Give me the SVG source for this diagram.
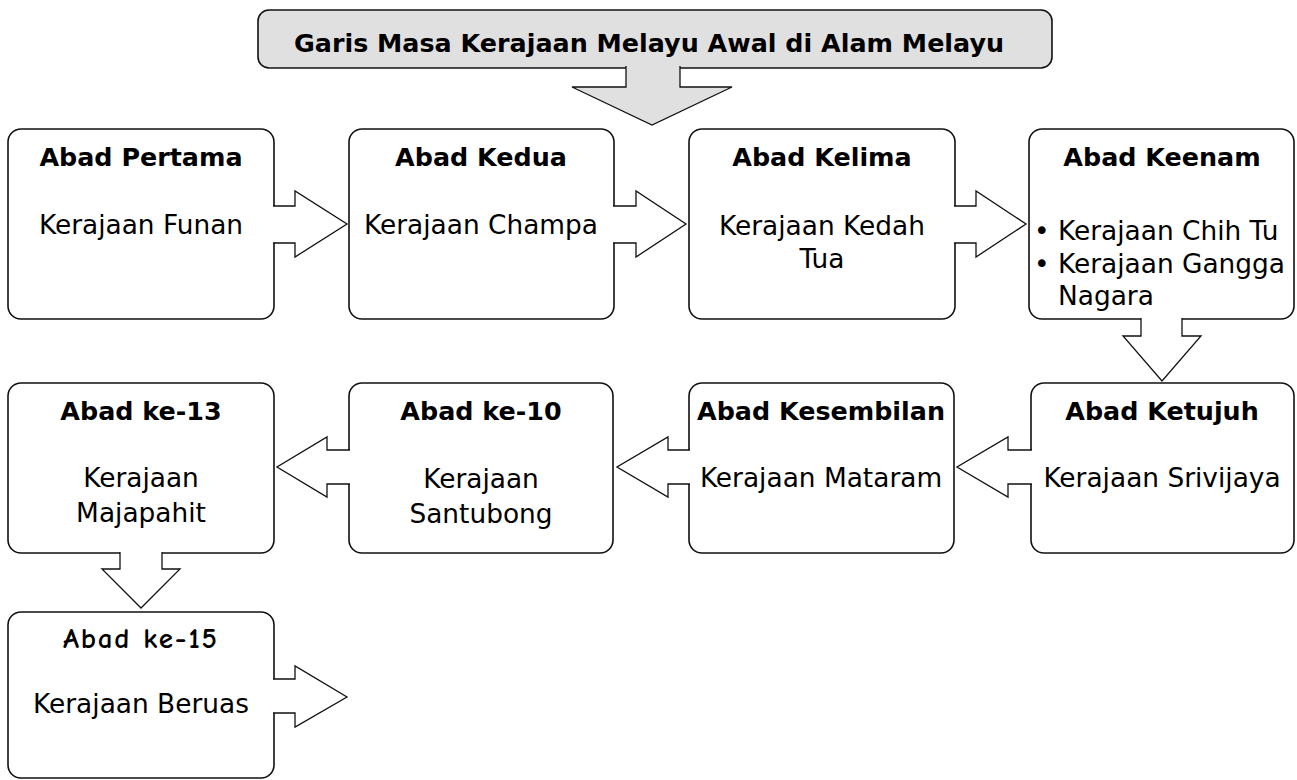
<svg xmlns="http://www.w3.org/2000/svg" width="1297" height="780" viewBox="0 0 1297 780">
<style>
.box{fill:#fff;stroke:#111;stroke-width:1.6}
.arr{fill:#fff;stroke:#111;stroke-width:1.3;stroke-linejoin:miter}
.h{font-family:"DejaVu Sans",sans-serif;font-weight:bold;font-size:25.4px;text-anchor:middle;fill:#000}
.b{font-family:"DejaVu Sans",sans-serif;font-size:26.4px;text-anchor:middle;fill:#000}
.bl{font-family:"DejaVu Sans",sans-serif;font-size:26.4px;fill:#000}
.h2{font-family:"Comic Neue","DejaVu Sans",sans-serif;font-weight:bold;font-size:29px;text-anchor:middle;fill:#000}
</style>
<rect width="1297" height="780" fill="#fff"/>

<g id="title">
<rect x="258" y="10" width="794" height="58" rx="11" fill="#e0e0e0" stroke="#111" stroke-width="1.6"/>
<text class="h" x="649" y="52">Garis Masa Kerajaan Melayu Awal di Alam Melayu</text>
</g>

<g id="n1"><rect class="box" x="8" y="129" width="266" height="190" rx="13"/>
<text class="h" x="141" y="166">Abad Pertama</text>
<text class="b" x="141" y="234">Kerajaan Funan</text></g>

<g id="n2"><rect class="box" x="349" y="129" width="265" height="190" rx="13"/>
<text class="h" x="481" y="166">Abad Kedua</text>
<text class="b" x="481" y="234">Kerajaan Champa</text></g>

<g id="n3"><rect class="box" x="689" y="129" width="266" height="190" rx="13"/>
<text class="h" x="822" y="166">Abad Kelima</text>
<text class="b" x="822" y="235">Kerajaan Kedah</text>
<text class="b" x="822" y="268">Tua</text></g>

<g id="n4"><rect class="box" x="1029" y="129" width="265" height="190" rx="13"/>
<text class="h" x="1162" y="166">Abad Keenam</text>
<text class="bl" x="1034" y="240">• Kerajaan Chih Tu</text>
<text class="bl" x="1034" y="273">• Kerajaan Gangga</text>
<text class="bl" x="1058" y="305">Nagara</text></g>

<g id="n5"><rect class="box" x="1031" y="383" width="263" height="170" rx="13"/>
<text class="h" x="1162" y="420">Abad Ketujuh</text>
<text class="b" x="1162" y="487">Kerajaan Srivijaya</text></g>

<g id="n6"><rect class="box" x="689" y="383" width="265" height="170" rx="13"/>
<text class="h" x="821" y="420">Abad Kesembilan</text>
<text class="b" x="821" y="487">Kerajaan Mataram</text></g>

<g id="n7"><rect class="box" x="349" y="383" width="264" height="170" rx="13"/>
<text class="h" x="481" y="420">Abad ke-10</text>
<text class="b" x="481" y="488">Kerajaan</text>
<text class="b" x="481" y="523">Santubong</text></g>

<g id="n8"><rect class="box" x="8" y="383" width="266" height="170" rx="13"/>
<text class="h" x="141" y="420">Abad ke-13</text>
<text class="b" x="141" y="487">Kerajaan</text>
<text class="b" x="141" y="522">Majapahit</text></g>

<g id="n9"><rect class="box" x="8" y="612" width="266" height="166" rx="13"/>
<text class="h2" x="140" y="648" textLength="154" lengthAdjust="spacing">Abad ke-15</text>
<text class="b" x="141" y="713">Kerajaan Beruas</text></g>

<g id="connectors">
<path d="M626,66 V87 H572 L652,125 L732,87 H680 V66" fill="#e0e0e0" stroke="#111" stroke-width="1.3"/>
<path class="arr" d="M273,206 H295 V191 L347,224 L295,257 V243 H273"/>
<path class="arr" d="M613,206 H636 V191 L686,224 L636,257 V243 H613"/>
<path class="arr" d="M954,206 H976 V191 L1026,224 L976,257 V243 H954"/>
<path class="arr" d="M1141,318 V336 H1123 L1162,381 L1201,336 H1182 V318"/>
<path class="arr" d="M1032,450 H1008 V437 L957,467 L1008,497 V484 H1032"/>
<path class="arr" d="M690,450 H668 V437 L617,467 L668,497 V484 H690"/>
<path class="arr" d="M350,450 H327 V437 L277,467 L327,497 V484 H350"/>
<path class="arr" d="M120,552 V569 H102 L141,608 L180,569 H162 V552"/>
<path class="arr" d="M273,679 H295 V666 L347,697 L295,727 V713 H273"/>
</g>
</svg>
